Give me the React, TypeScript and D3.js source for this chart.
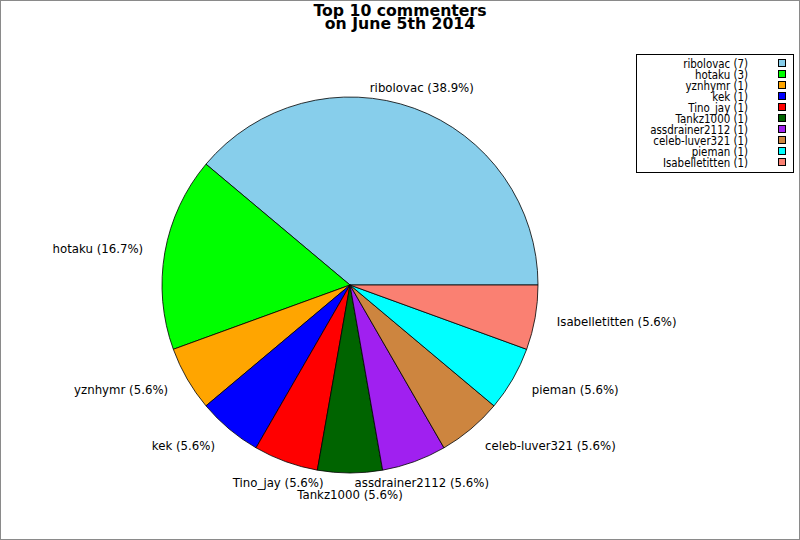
import React from "react";
import * as d3 from "d3";

const names = ["ribolovac", "hotaku", "yznhymr", "kek", "Tino_jay", "Tankz1000", "assdrainer2112", "celeb-luver321", "pieman", "Isabelletitten"];
const counts = [7, 3, 1, 1, 1, 1, 1, 1, 1, 1];
const colors = ["#87CEEB", "#00FF00", "#FFA500", "#0000FF", "#FF0000", "#006400", "#A020F0", "#CD853F", "#00FFFF", "#FA8072"];
const titleLines = ["Top 10 commenters", "on June 5th 2014"];

const W = 800;
const H = 540;
const cx = 350;
const cy = 285;
const R = 188;
const RL = 210;
const FONT = "'DejaVu Sans', sans-serif";

export default function App() {
  const total = d3.sum(counts);
  const pie = d3
    .pie<number>()
    .sort(null)
    .value((d) => d)
    .startAngle(Math.PI / 2)
    .endAngle(Math.PI / 2 - 2 * Math.PI);
  const arcs = pie(counts);
  const arc = d3.arc<d3.PieArcDatum<number>>().innerRadius(0).outerRadius(R);
  const fmt = d3.format(".1f");

  return (
    <svg width={W} height={H} style={{ position: "absolute", left: 0, top: 0, background: "#fff" }} fontFamily={FONT}>
      <rect x={0.5} y={0.5} width={W - 1} height={H - 1} fill="#fff" stroke="#8a8a8a" strokeWidth={1} />
      {titleLines.map((t, i) => (
        <text key={i} x={400} y={16 + i * 12.5} textAnchor="middle" fontWeight="bold" fontSize={15.7} fill="#000">
          {t}
        </text>
      ))}
      <g transform={`translate(${cx},${cy})`}>
        {arcs.map((a, i) => (
          <path key={i} d={arc(a) || ""} fill={colors[i]} stroke="#000" strokeWidth={0.8} strokeLinejoin="round" />
        ))}
        {arcs.map((a, i) => {
          const mid = (a.startAngle + a.endAngle) / 2;
          const sx = Math.sin(mid);
          const sy = -Math.cos(mid);
          const x = RL * sx;
          const y = RL * sy;
          const anchor = Math.abs(sx) < 0.5 ? "middle" : sx > 0 ? "start" : "end";
          return (
            <text key={i} transform={`translate(${x},${y}) scale(0.98,1)`} dy="0.36em" textAnchor={anchor} fontSize={12} fill="#000">
              {`${names[i]} (${fmt((counts[i] / total) * 100)}%)`}
            </text>
          );
        })}
      </g>
      <g>
        <rect x={636.5} y={54.5} width={157} height={118} fill="#fff" stroke="#000" strokeWidth={1} />
        {names.map((n, i) => (
          <g key={i}>
            <text transform={`translate(748,${67.5 + i * 11}) scale(0.79,1)`} textAnchor="end" fontSize={13} fill="#000">
              {`${n} (${counts[i]})`}
            </text>
            <rect x={778.5} y={59.5 + i * 11} width={7} height={7} fill={colors[i]} stroke="#000" strokeWidth={1} />
          </g>
        ))}
      </g>
    </svg>
  );
}
